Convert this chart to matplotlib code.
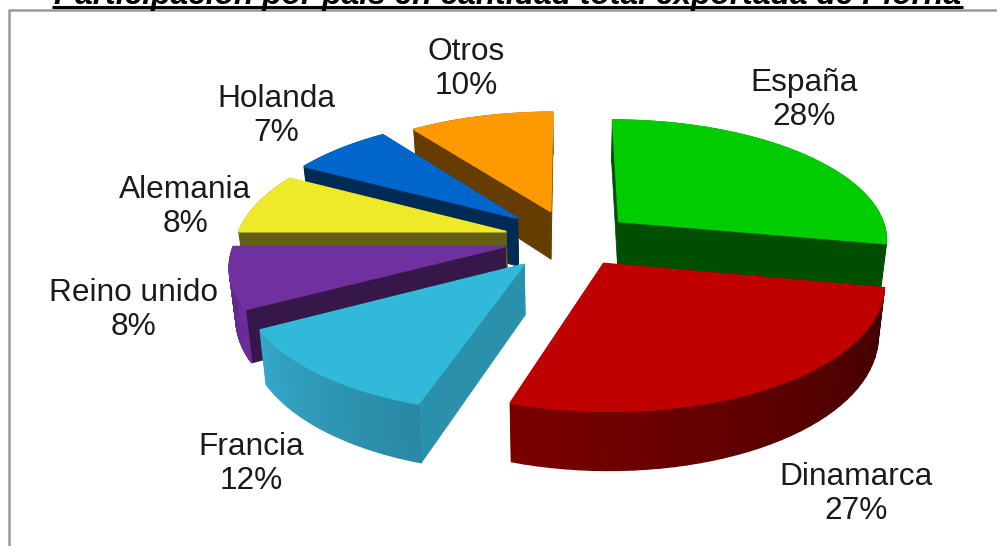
import numpy as np
import matplotlib
matplotlib.use("Agg")
import matplotlib.pyplot as plt
from matplotlib.colors import to_rgb

# clockwise from 12 o'clock
paises = ["España", "Dinamarca", "Francia", "Reino unido", "Alemania", "Holanda", "Otros"]
shares = [28, 27, 12, 8, 8, 7, 10]
explode = [0.235, 0.23, 0.265, 0.25, 0.25, 0.27, 0.25]

top_colors = ["#00cc00", "#c00000", "#31b9da", "#7030a0", "#eeea2a", "#0066cc", "#ff9900"]
cut_colors = ["#004f00", "#4a0000", "#2a90ab", "#35174a", "#635f14", "#002b55", "#663c00"]
rim_start = ["#004f00", "#3f0000", "#2a88a4", "#6c2d9c", "#635f14", "#002b55", "#663c00"]
rim_end = ["#004f00", "#7a0000", "#33a8c8", "#5e2788", "#635f14", "#002b55", "#663c00"]

label_pos = [(804, 100), (856, 494), (251, 464), (133, 310), (185, 207), (276, 116), (466, 69)]
titulo = "Participación por país en cantidad total exportada de Piorna"

# projection of the pie plane on to the picture
CX, CY = 567, 250
RADIUS = 273
RQ = 123
K = 0.14
DEPTH = 50
BOTTOM_SCALE = 0.98
OFF_X, OFF_Y = 0.015, 0.09


def project(x, y, bottom=False):
    s = 1 / (1 + K * y)
    sx = RADIUS * x * s
    sy = CY - RQ * y * s
    if bottom:
        return CX + sx * BOTTOM_SCALE, sy + DEPTH * s
    return CX + sx, sy


def draw_slice(ax, a0, a1, expl, top, cut, rim0, rim1):
    mid = np.radians((a0 + a1) / 2)
    ax0 = OFF_X + expl * np.sin(mid)
    ay0 = OFF_Y + expl * np.cos(mid)
    theta = np.radians(np.linspace(a0, a1, 40))
    xs = ax0 + np.sin(theta)
    ys = ay0 + np.cos(theta)

    # cut faces first, the rim and top go over them
    for i in (0, -1):
        p = [project(ax0, ay0), project(xs[i], ys[i]),
             project(xs[i], ys[i], True), project(ax0, ay0, True)]
        ax.fill(*zip(*p), color=cut, lw=0.5, zorder=1)

    c0, c1 = np.array(to_rgb(rim0)), np.array(to_rgb(rim1))
    for i in range(len(theta) - 1):
        p = [project(xs[i], ys[i]), project(xs[i + 1], ys[i + 1]),
             project(xs[i + 1], ys[i + 1], True), project(xs[i], ys[i], True)]
        t = i / (len(theta) - 2)
        ax.fill(*zip(*p), color=tuple(c0 + (c1 - c0) * t), lw=1.0, zorder=1)

    outline = [project(ax0, ay0)] + [project(x, y) for x, y in zip(xs, ys)]
    ax.fill(*zip(*outline), color=top, lw=1.2, zorder=1)


fig = plt.figure(figsize=(9.97, 5.46), dpi=100)
ax = fig.add_axes([0, 0, 1, 1])
ax.set_xlim(0, 997)
ax.set_ylim(546, 0)
ax.axis("off")

ax.plot([8.5, 8.5, 997], [546, 10, 10], color="#999999", lw=1.8, zorder=0)

edges = np.cumsum([0] + shares) / sum(shares) * 360
# back slices first, Francia over Reino unido over Alemania and so on
for i in [6, 5, 4, 3, 2, 0, 1]:
    draw_slice(ax, edges[i], edges[i + 1], explode[i], top_colors[i],
               cut_colors[i], rim_start[i], rim_end[i])

for nombre, share, (x, y) in zip(paises, shares, label_pos):
    ax.text(x, y, f"{nombre}\n{share}%", ha="center", va="center", fontsize=22.8,
            family="Liberation Sans", color="#1a1a1a", linespacing=1.16)

ax.text(507, 4, titulo, ha="center", va="baseline", fontsize=22.9, family="Liberation Sans",
        fontweight="bold", fontstyle="italic", color="black")
ax.plot([52, 963], [6.5, 6.5], color="black", lw=2.2, solid_capstyle="butt")

fig.savefig("out.png", dpi=100)
